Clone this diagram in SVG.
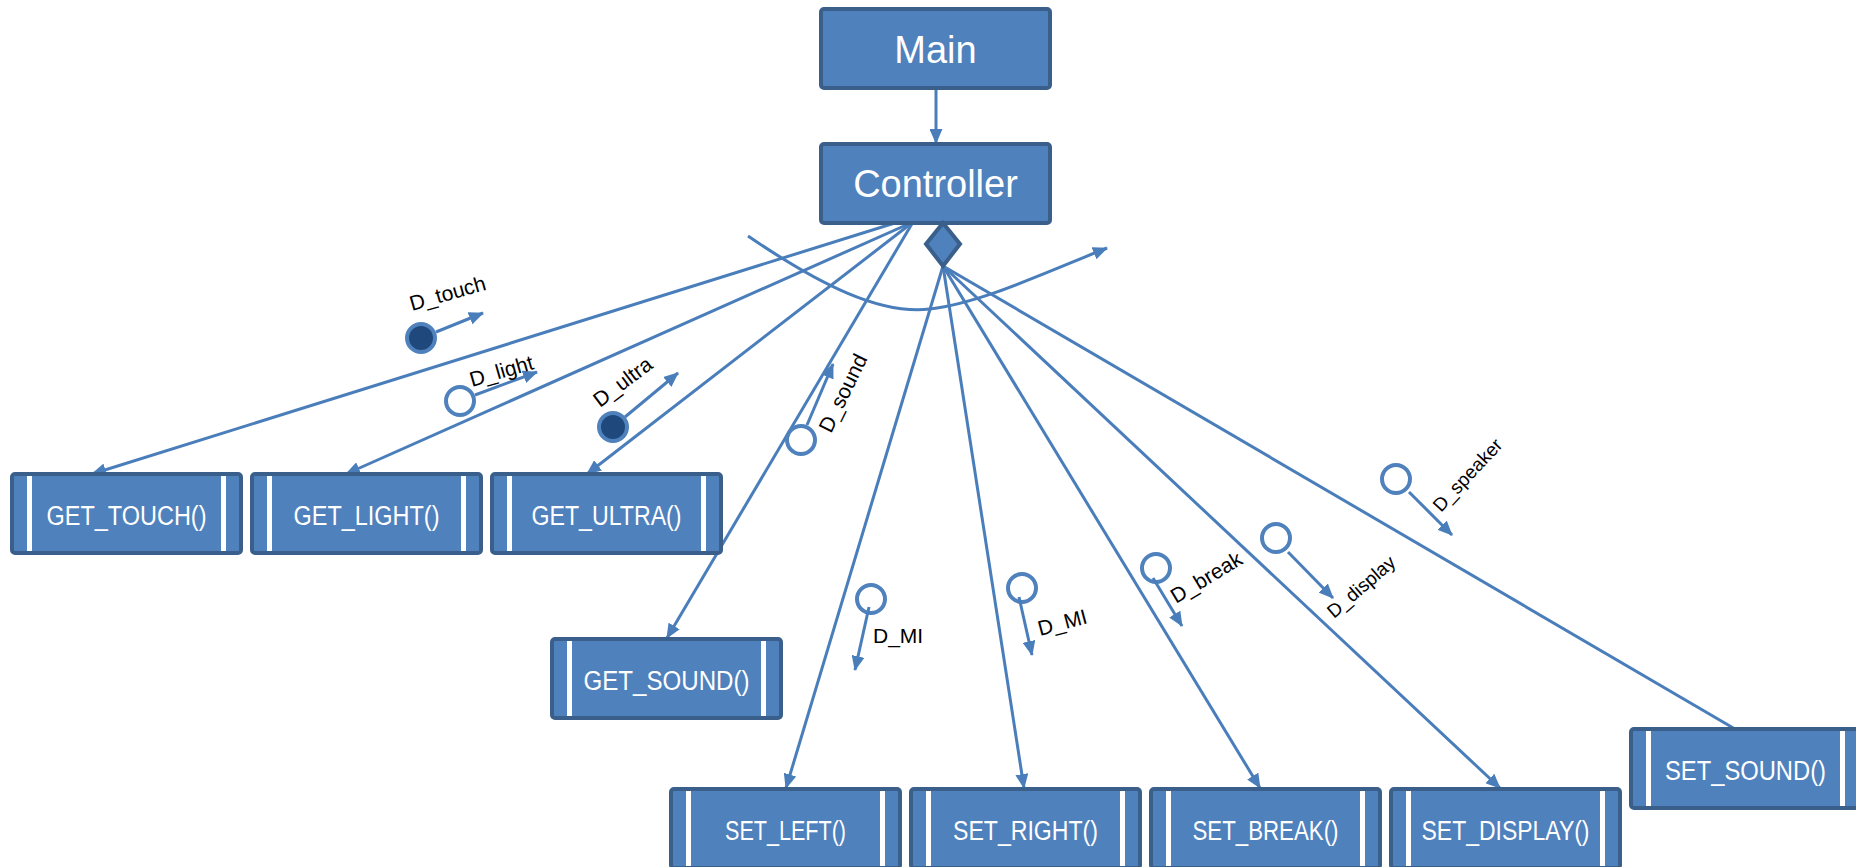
<svg xmlns="http://www.w3.org/2000/svg" width="1856" height="867" viewBox="0 0 1856 867">
<defs>
<style>
.box{fill:#4F81BD;stroke:#3A5F8B;stroke-width:4}
.bar{fill:#FFFFFF}
.big{font-family:"Liberation Sans",Arial,sans-serif;font-size:38px;fill:#FFFFFF;text-anchor:middle}
.lbl{font-family:"Liberation Sans",Arial,sans-serif;font-size:27px;fill:#FFFFFF;text-anchor:middle}
.conn{fill:none;stroke:#4A7EBB;stroke-width:3}
.dl{font-family:"Liberation Sans",Arial,sans-serif;font-size:21px;fill:#000000}
.ds{font-family:"Liberation Sans",Arial,sans-serif;font-size:19px;fill:#000000}
.hollow{fill:#FFFFFF;stroke:#4F81BD;stroke-width:4}
.solid{fill:#1F497D;stroke:#4F81BD;stroke-width:4}
</style>
<marker id="arr" markerUnits="userSpaceOnUse" markerWidth="15" markerHeight="13" refX="14" refY="6.5" orient="auto">
<path d="M0,0 L15,6.5 L0,13 Z" fill="#4A7EBB"/>
</marker>
</defs>
<rect width="1856" height="867" fill="#FFFFFF"/>

<g id="connectors">
<path class="conn" d="M936,88 L936,143" marker-end="url(#arr)"/>
<path class="conn" d="M898,222 L92,474" marker-end="url(#arr)"/>
<path class="conn" d="M913,222 L346,474" marker-end="url(#arr)"/>
<path class="conn" d="M913,222 L587,474" marker-end="url(#arr)"/>
<path class="conn" d="M913,222 L667,638" marker-end="url(#arr)"/>
<path class="conn" d="M943,266 L786,788" marker-end="url(#arr)"/>
<path class="conn" d="M943,266 L1024,788" marker-end="url(#arr)"/>
<path class="conn" d="M943,266 L1260,788" marker-end="url(#arr)"/>
<path class="conn" d="M943,266 L1500,788" marker-end="url(#arr)"/>
<path class="conn" d="M943,266 L1735,729"/>
<path class="conn" d="M748,236 C820,285 880,315 930,309 C980,303 1040,275 1107,248" marker-end="url(#arr)"/>
</g>

<g id="main">
<rect class="box" x="821" y="9" width="229" height="79" rx="3"/>
<text class="big" x="935.5" y="63">Main</text>
</g>
<g id="controller">
<rect class="box" x="821" y="144" width="229" height="79" rx="3"/>
<text class="big" x="935.5" y="197">Controller</text>
<polygon class="box" points="943,223 960,244 943,266 926,244"/>
</g>

<g id="get_touch">
<rect class="box" x="12" y="474" width="229" height="79" rx="3"/>
<rect class="bar" x="27" y="476" width="5" height="75"/><rect class="bar" x="221" y="476" width="5" height="75"/>
<text class="lbl" x="126.5" y="525" textLength="160" lengthAdjust="spacingAndGlyphs">GET_TOUCH()</text>
</g>
<g id="get_light">
<rect class="box" x="252" y="474" width="229" height="79" rx="3"/>
<rect class="bar" x="267" y="476" width="5" height="75"/><rect class="bar" x="461" y="476" width="5" height="75"/>
<text class="lbl" x="366.5" y="525" textLength="146" lengthAdjust="spacingAndGlyphs">GET_LIGHT()</text>
</g>
<g id="get_ultra">
<rect class="box" x="492" y="474" width="229" height="79" rx="3"/>
<rect class="bar" x="507" y="476" width="5" height="75"/><rect class="bar" x="701" y="476" width="5" height="75"/>
<text class="lbl" x="606.5" y="525" textLength="150" lengthAdjust="spacingAndGlyphs">GET_ULTRA()</text>
</g>
<g id="get_sound">
<rect class="box" x="552" y="639" width="229" height="79" rx="3"/>
<rect class="bar" x="567" y="641" width="5" height="75"/><rect class="bar" x="761" y="641" width="5" height="75"/>
<text class="lbl" x="666.5" y="690" textLength="166" lengthAdjust="spacingAndGlyphs">GET_SOUND()</text>
</g>
<g id="set_left">
<rect class="box" x="671" y="789" width="229" height="79" rx="3"/>
<rect class="bar" x="686" y="791" width="5" height="75"/><rect class="bar" x="880" y="791" width="5" height="75"/>
<text class="lbl" x="785.5" y="840" textLength="121" lengthAdjust="spacingAndGlyphs">SET_LEFT()</text>
</g>
<g id="set_right">
<rect class="box" x="911" y="789" width="229" height="79" rx="3"/>
<rect class="bar" x="926" y="791" width="5" height="75"/><rect class="bar" x="1120" y="791" width="5" height="75"/>
<text class="lbl" x="1025.5" y="840" textLength="145" lengthAdjust="spacingAndGlyphs">SET_RIGHT()</text>
</g>
<g id="set_break">
<rect class="box" x="1151" y="789" width="229" height="79" rx="3"/>
<rect class="bar" x="1166" y="791" width="5" height="75"/><rect class="bar" x="1360" y="791" width="5" height="75"/>
<text class="lbl" x="1265.5" y="840" textLength="146" lengthAdjust="spacingAndGlyphs">SET_BREAK()</text>
</g>
<g id="set_display">
<rect class="box" x="1391" y="789" width="229" height="79" rx="3"/>
<rect class="bar" x="1406" y="791" width="5" height="75"/><rect class="bar" x="1600" y="791" width="5" height="75"/>
<text class="lbl" x="1505.5" y="840" textLength="168" lengthAdjust="spacingAndGlyphs">SET_DISPLAY()</text>
</g>
<g id="set_sound">
<rect class="box" x="1631" y="729" width="229" height="79" rx="3"/>
<rect class="bar" x="1646" y="731" width="5" height="75"/><rect class="bar" x="1840" y="731" width="5" height="75"/>
<text class="lbl" x="1745.5" y="780" textLength="161" lengthAdjust="spacingAndGlyphs">SET_SOUND()</text>
</g>

<g id="d_touch">
<circle class="solid" cx="421" cy="338" r="14"/>
<path class="conn" d="M436,332 L483,313" marker-end="url(#arr)"/>
<text class="dl" transform="translate(412,311) rotate(-16)">D_touch</text>
</g>
<g id="d_light">
<circle class="hollow" cx="460" cy="401" r="14"/>
<path class="conn" d="M475,395 L537,372" marker-end="url(#arr)"/>
<text class="dl" transform="translate(472,387) rotate(-16)">D_light</text>
</g>
<g id="d_ultra">
<circle class="solid" cx="613" cy="427" r="14"/>
<path class="conn" d="M625,417 L678,373" marker-end="url(#arr)"/>
<text class="dl" transform="translate(600,408) rotate(-37)">D_ultra</text>
</g>
<g id="d_sound">
<circle class="hollow" cx="801" cy="440" r="14"/>
<path class="conn" d="M807,425 L833,364" marker-end="url(#arr)"/>
<text class="dl" transform="translate(831,434) rotate(-64)">D_sound</text>
</g>
<g id="d_mi_left">
<circle class="hollow" cx="871" cy="599" r="14"/>
<path class="conn" d="M869,607 L855,670" marker-end="url(#arr)"/>
<text class="dl" x="873" y="643">D_MI</text>
</g>
<g id="d_mi_right">
<circle class="hollow" cx="1022" cy="588" r="14"/>
<path class="conn" d="M1019,597 L1032,655" marker-end="url(#arr)"/>
<text class="dl" transform="translate(1040,636) rotate(-15)">D_MI</text>
</g>
<g id="d_break">
<circle class="hollow" cx="1156" cy="568" r="14"/>
<path class="conn" d="M1153,578 L1182,626" marker-end="url(#arr)"/>
<text class="dl" transform="translate(1176,604) rotate(-31)">D_break</text>
</g>
<g id="d_display">
<circle class="hollow" cx="1276" cy="538" r="14"/>
<path class="conn" d="M1288,552 L1333,598" marker-end="url(#arr)"/>
<text class="ds" transform="translate(1334,619) rotate(-41)">D_display</text>
</g>
<g id="d_speaker">
<circle class="hollow" cx="1396" cy="479" r="14"/>
<path class="conn" d="M1409,492 L1452,535" marker-end="url(#arr)"/>
<text class="ds" transform="translate(1441,513) rotate(-47)">D_speaker</text>
</g>
</svg>
